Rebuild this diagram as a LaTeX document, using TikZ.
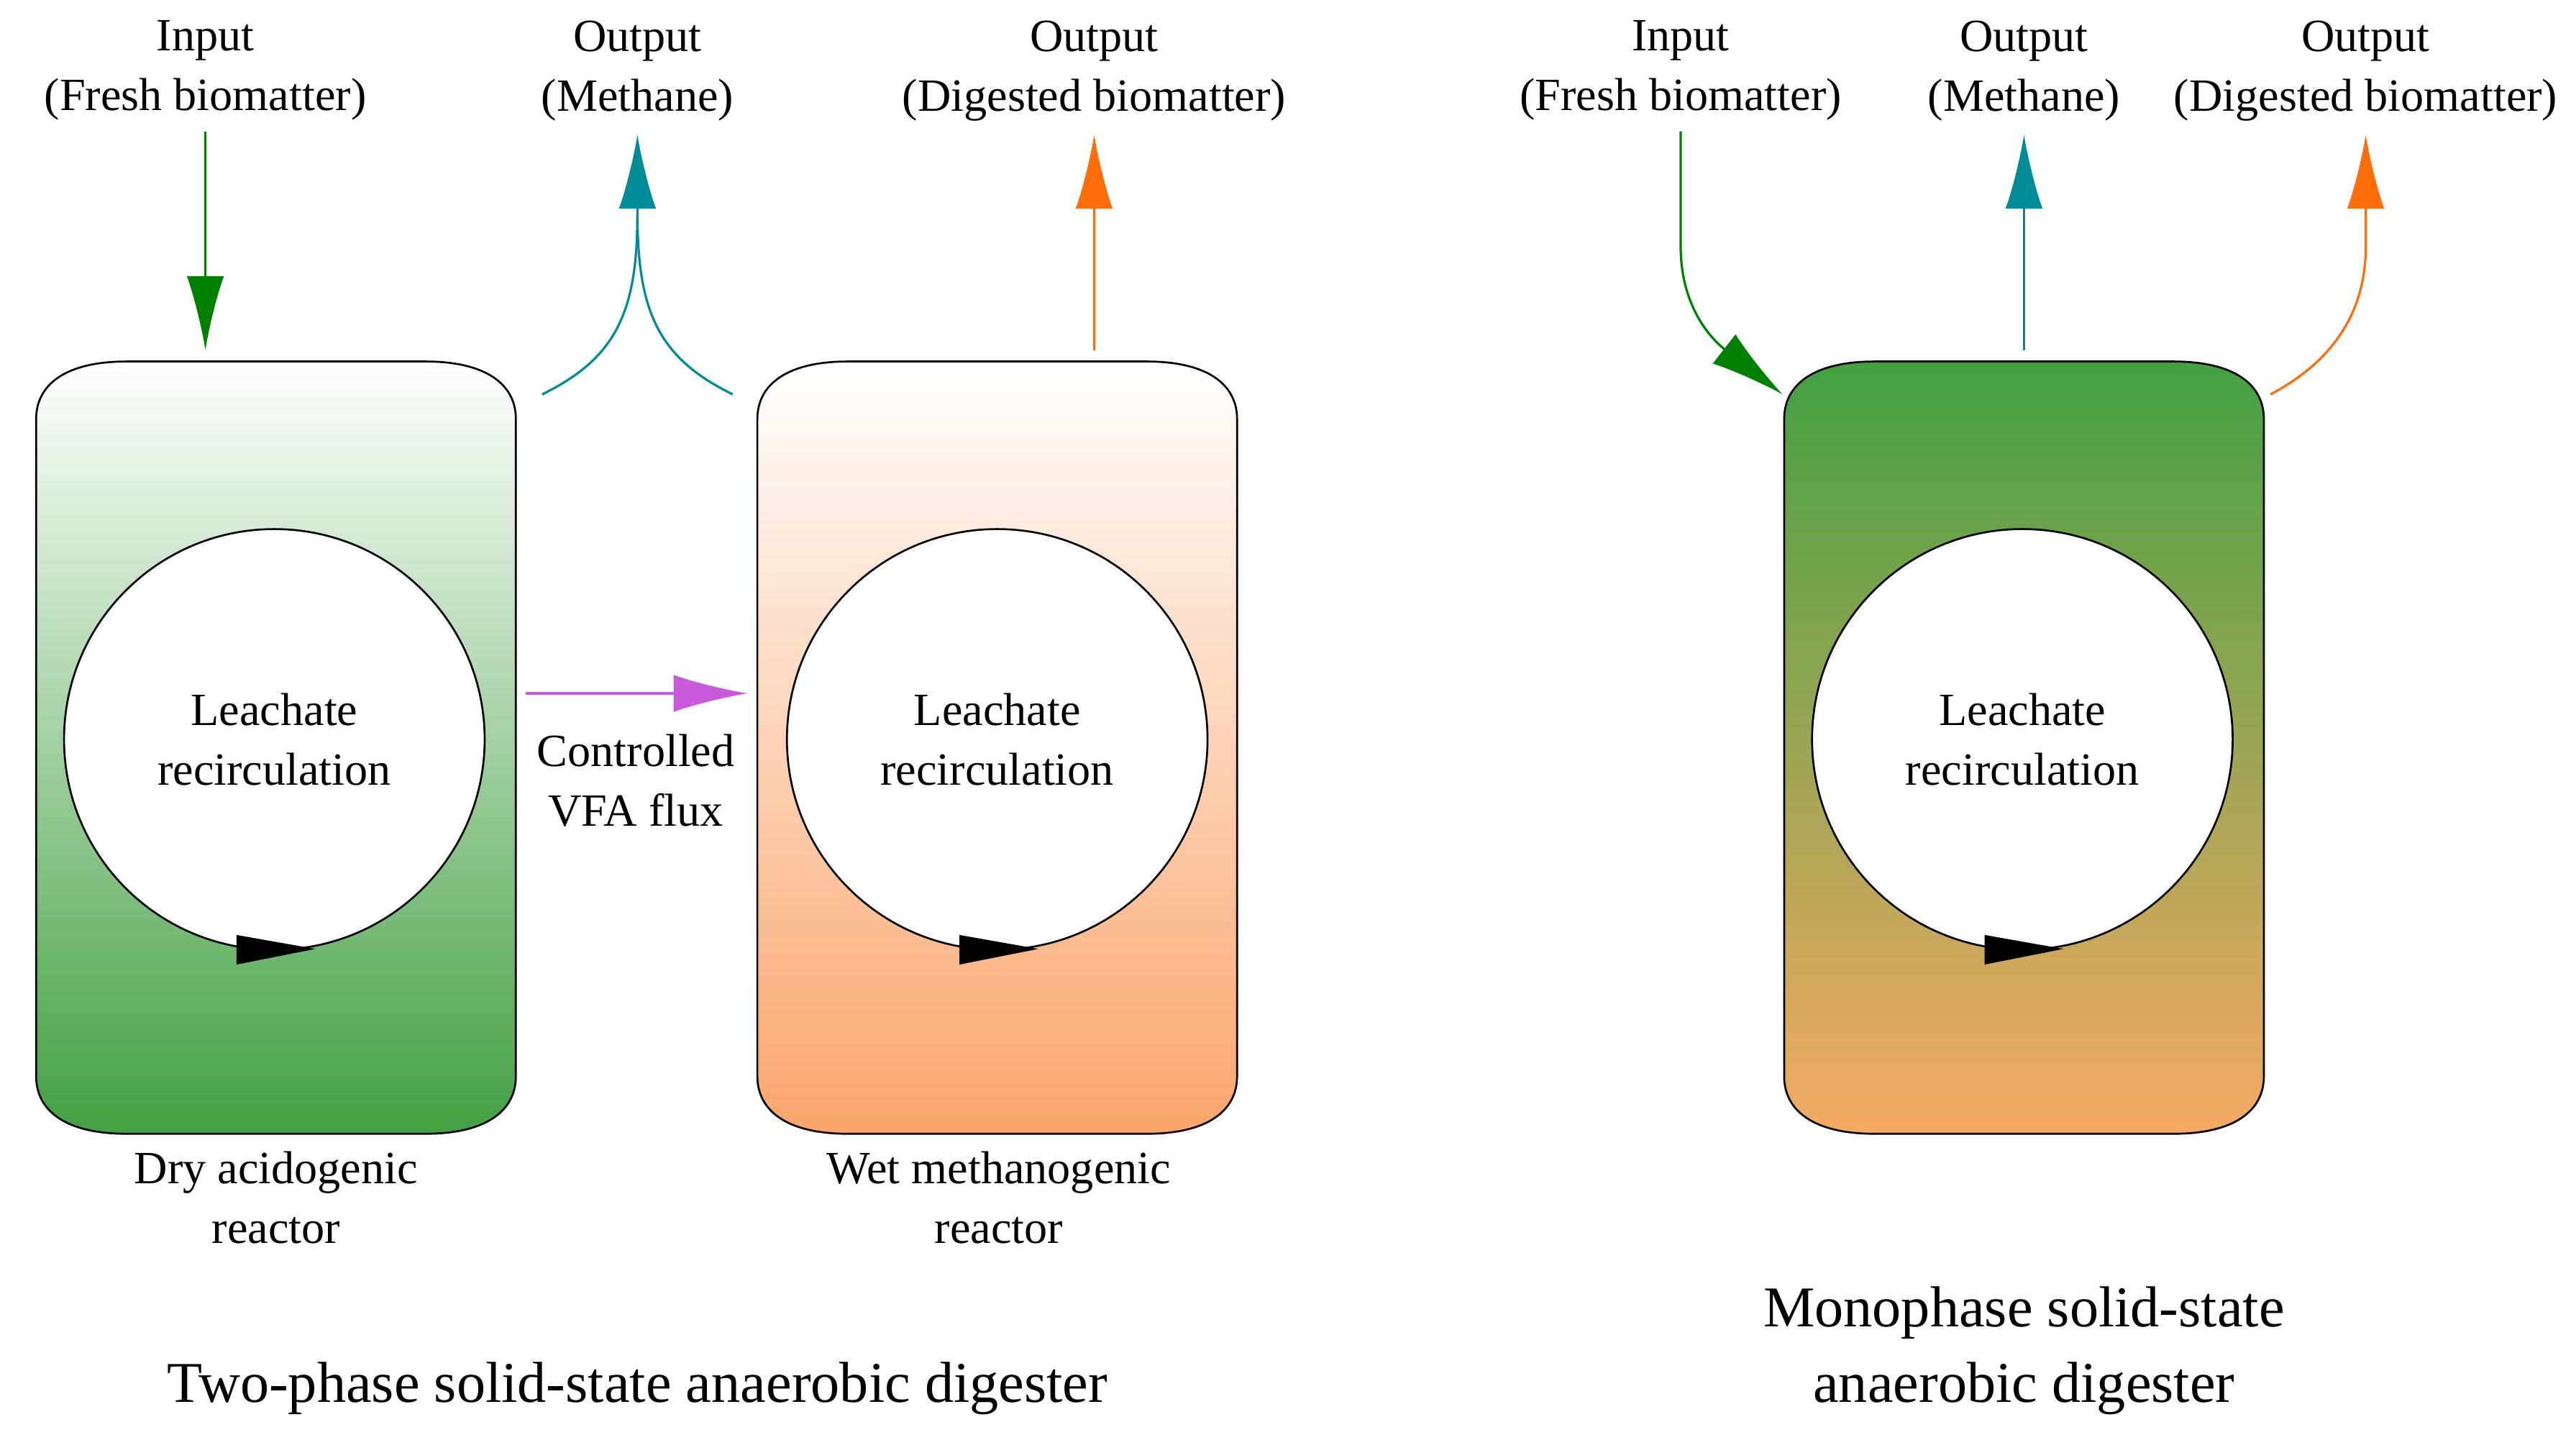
\documentclass[tikz,border=0pt]{standalone}
\usepackage{fontspec}
\setmainfont{Liberation Serif}
\usetikzlibrary{arrows.meta}
\definecolor{gr}{RGB}{67,160,67}
\definecolor{og}{RGB}{250,165,108}
\definecolor{og2}{RGB}{245,170,100}
\definecolor{teal}{RGB}{0,140,150}
\definecolor{orr}{RGB}{255,110,10}
\definecolor{dgr}{RGB}{0,128,0}
\definecolor{pink}{RGB}{200,90,220}
\begin{document}
\begin{tikzpicture}[x=0.03cm,y=-0.03cm,
 lab/.style={font=\fontsize{24}{31}\selectfont,align=center},
 ttl/.style={font=\fontsize{30}{39}\selectfont,align=center},
 tank/.style={draw=black,line width=1pt},
 circ/.style={draw=black,line width=1pt,fill=white,circle,minimum size=7.68cm,inner sep=0pt,lab},
 tip/.style={-{Latex[length=1.35cm,width=0.68cm]},line width=1.2pt}]
\useasboundingbox (0,0) rectangle (1568,876);
\newcommand\tankpath[2]{(#1,255) arc[start angle=180,end angle=90,x radius=55,y radius=35] -- (#2-55,220) arc[start angle=90,end angle=0,x radius=55,y radius=35] -- (#2,655) arc[start angle=0,end angle=-90,x radius=55,y radius=35] -- (#1+55,690) arc[start angle=270,end angle=180,x radius=55,y radius=35] -- cycle}
% tanks (y axis flipped: arcs use negative y radius sense)
\begin{scope}[y=0.03cm,yscale=-1]
\end{scope}
\shade[tank,top color=white,bottom color=gr] (22,255) -- (22,655) .. controls (22,676) and (40,690) .. (77,690) -- (259,690) .. controls (296,690) and (314,676) .. (314,655) -- (314,255) .. controls (314,234) and (296,220) .. (259,220) -- (77,220) .. controls (40,220) and (22,234) .. (22,255) -- cycle;
\shade[tank,top color=white,bottom color=og] (461,255) -- (461,655) .. controls (461,676) and (479,690) .. (516,690) -- (698,690) .. controls (735,690) and (753,676) .. (753,655) -- (753,255) .. controls (753,234) and (735,220) .. (698,220) -- (516,220) .. controls (479,220) and (461,234) .. (461,255) -- cycle;
\shade[tank,top color=gr,bottom color=og2] (1086,255) -- (1086,655) .. controls (1086,676) and (1104,690) .. (1141,690) -- (1323,690) .. controls (1360,690) and (1378,676) .. (1378,655) -- (1378,255) .. controls (1378,234) and (1360,220) .. (1323,220) -- (1141,220) .. controls (1104,220) and (1086,234) .. (1086,255) -- cycle;
\node[circ] (c1) at (167,450) {Leachate\\recirculation};
\node[circ] (c2) at (607,450) {Leachate\\recirculation};
\node[circ] (c3) at (1231,450) {Leachate\\recirculation};
\foreach \x in {167,607,1231}{
 \fill (\x-23,569) -- (\x+25,577.5) -- (\x-23,587) -- cycle;}
% labels
\node[lab] (i1) at (125,43) {Input\\(Fresh biomatter)};
\node[lab] (m1) at (388,43) {Output\\(Methane)};
\node[lab] (d1) at (666,43) {Output\\(Digested biomatter)};
\node[lab] (i2) at (1023,43) {Input\\(Fresh biomatter)};
\node[lab] (m2) at (1232,43) {Output\\(Methane)};
\node[lab] (d2) at (1440,43) {Output\\(Digested biomatter)};
\node[lab] (vfa) at (387,475) {Controlled\\VFA flux};
\node[lab] (r1) at (168,729) {Dry acidogenic\\reactor};
\node[lab] (r2) at (608,729) {Wet methanogenic\\reactor};
\node[ttl] (t1) at (388,845) {Two-phase solid-state anaerobic digester};
\node[ttl] (t2) at (1232,822) {Monophase solid-state\\anaerobic digester};
% coordinates
\coordinate (a1) at (125,80); \coordinate (a2) at (125,213);
\coordinate (b0) at (388,82); \coordinate (bl) at (330,240); \coordinate (br) at (446,240);
\coordinate (e1) at (666,213); \coordinate (e2) at (666,82);
\coordinate (f1) at (1023,80); \coordinate (f2) at (1085,240);
\coordinate (g1) at (1232,213); \coordinate (g2) at (1232,82);
\coordinate (h1) at (1382,240); \coordinate (h2) at (1440,82);
\coordinate (p1) at (320,422); \coordinate (p2) at (455,422);
% arrows
\draw[tip,dgr] (a1) -- (a2);
\draw[teal,line width=1.2pt] (bl) .. controls (375,218) and (388,190) .. (388,130);
\draw[tip,teal] (br) .. controls (401,218) and (388,190) .. (388,130) -- (b0);
\draw[tip,orr] (e1) -- (e2);
\draw[tip,dgr] (f1) -- (1023,150) .. controls (1023,185) and (1040,205) .. (f2);
\draw[tip,teal] (g1) -- (g2);
\draw[tip,orr] (h1) .. controls (1420,220) and (1440,190) .. (1440,150) -- (h2);
\draw[tip,pink] (p1) -- (p2);
\end{tikzpicture}
\end{document}
